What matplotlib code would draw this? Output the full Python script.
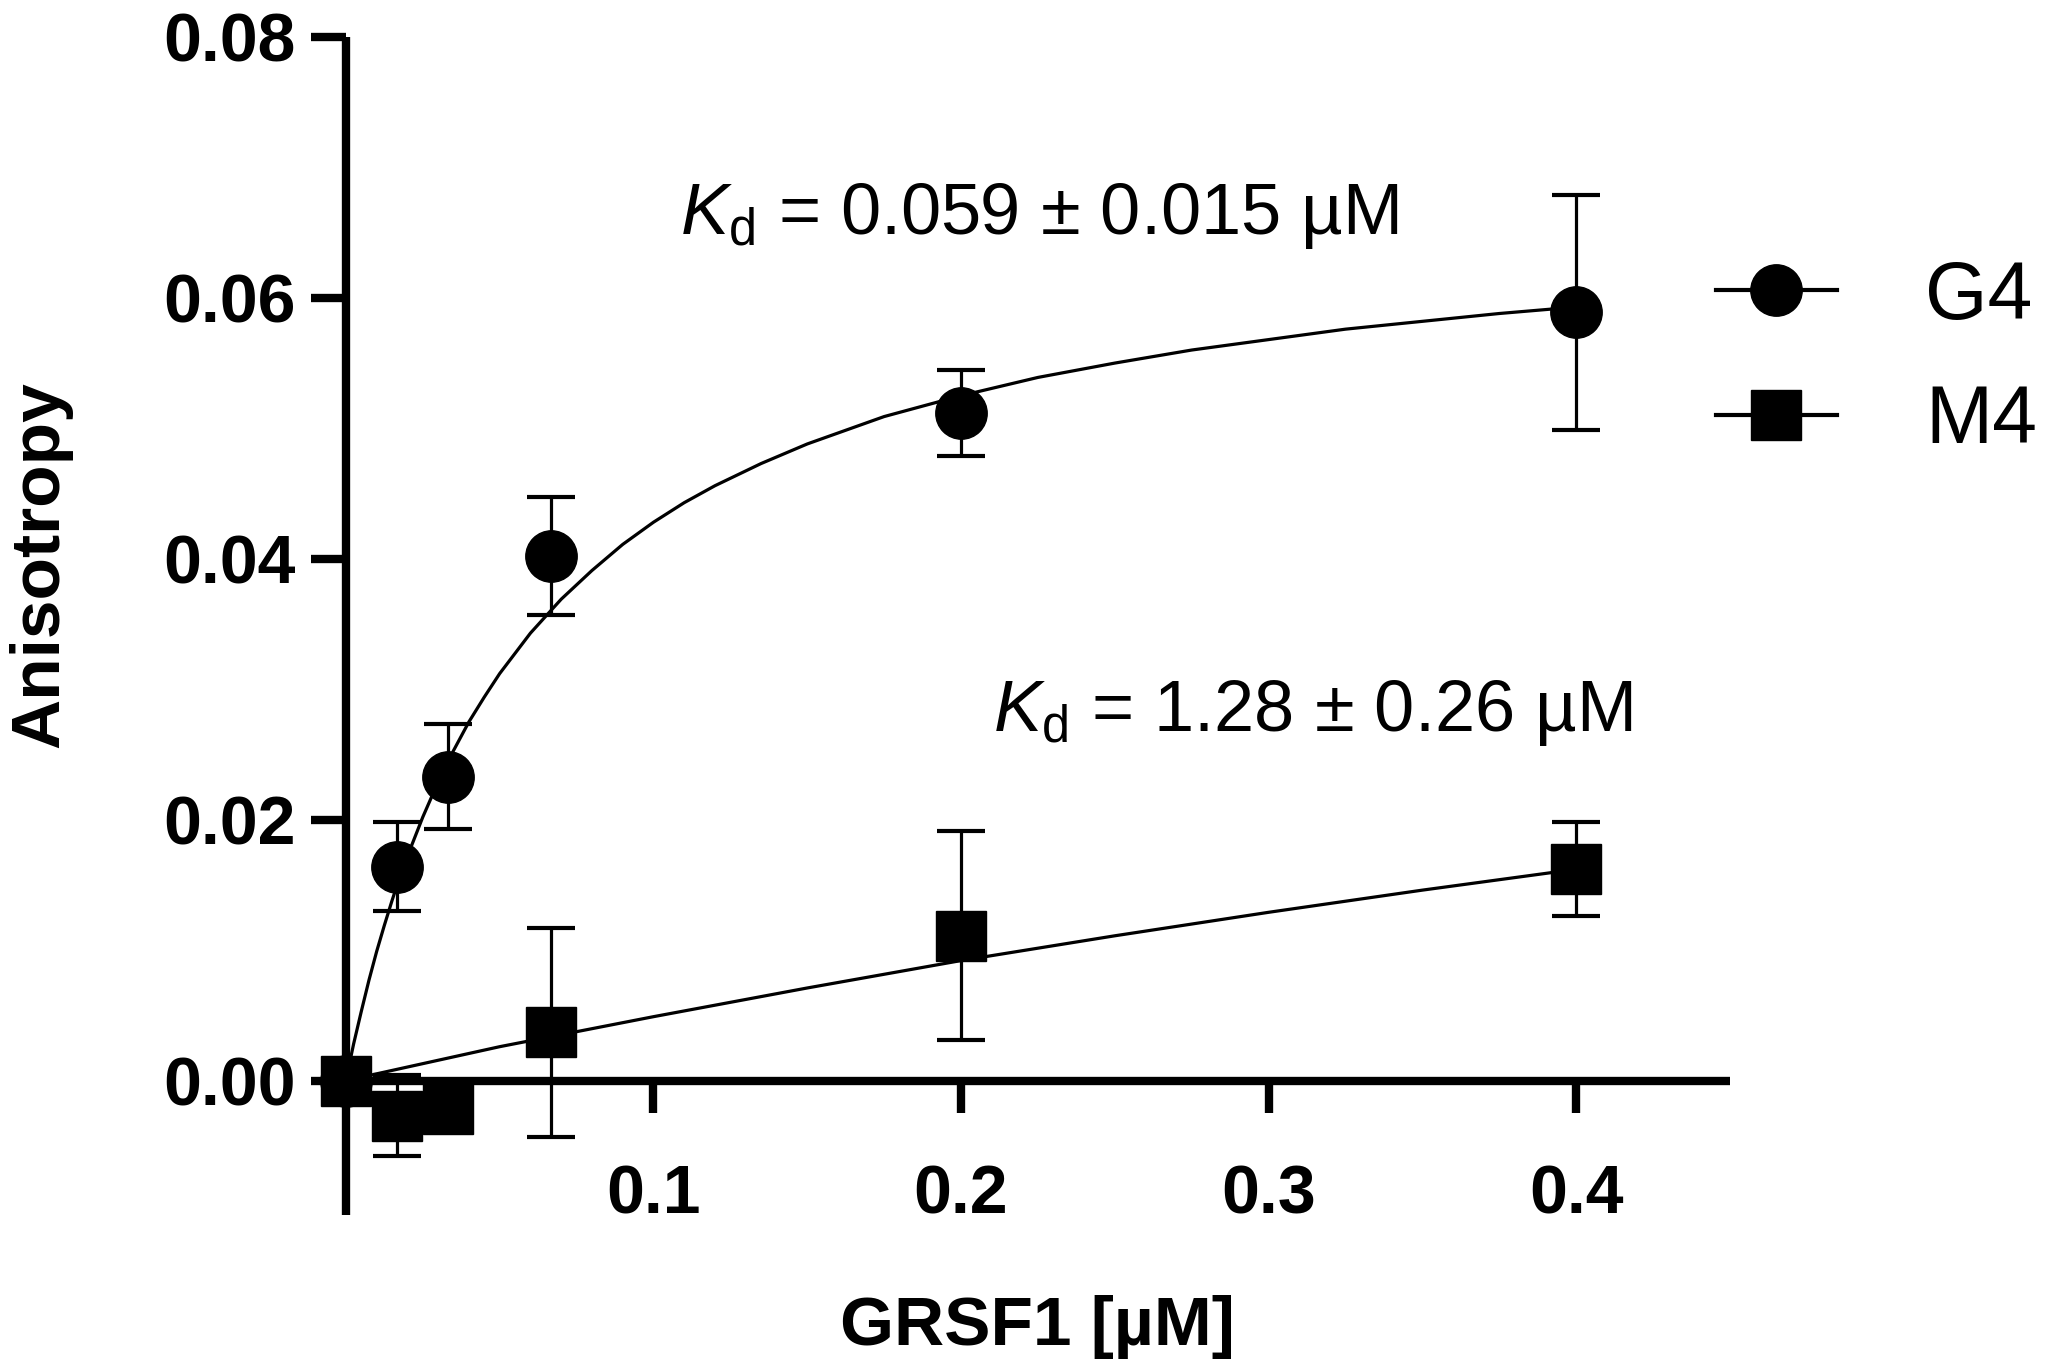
import numpy as np
import matplotlib
matplotlib.use("Agg")
import matplotlib.pyplot as plt
from matplotlib.lines import Line2D
from matplotlib.ticker import FormatStrFormatter

plt.rcParams["font.family"] = ["Liberation Sans", "DejaVu Sans"]
plt.rcParams["mathtext.fontset"] = "custom"
plt.rcParams["mathtext.rm"] = "Liberation Sans"
plt.rcParams["mathtext.it"] = "Liberation Sans:italic"

# GRSF1 concentration (uM)
conc = [0.0, 0.0167, 0.0333, 0.0667, 0.2, 0.4]

# G4 anisotropy, mean and error
g4_mean = [0.0, 0.0164, 0.0233, 0.0402, 0.0512, 0.0589]
g4_err = [0.0, 0.0034, 0.0040, 0.0045, 0.0033, 0.0090]

# M4 anisotropy, mean and error
m4_mean = [0.0, -0.0027, -0.0022, 0.0037, 0.0111, 0.0162]
m4_err = [0.0, 0.0031, 0.0003, 0.0080, 0.0080, 0.0036]

# fitted curves
g4_fit_x = [0.0, 0.0025, 0.005, 0.0075, 0.01, 0.0125, 0.015, 0.0175, 0.02,
            0.025, 0.03, 0.035, 0.04, 0.045, 0.05, 0.06, 0.07, 0.08, 0.09,
            0.1, 0.11, 0.12, 0.135, 0.15, 0.175, 0.2, 0.225, 0.25, 0.275,
            0.3, 0.325, 0.35, 0.375, 0.4]
g4_fit_y = [0.0, 0.0028, 0.0053, 0.0077, 0.0099, 0.0119, 0.0138, 0.0156,
            0.0172, 0.0202, 0.0229, 0.0253, 0.0275, 0.0294, 0.0312, 0.0343,
            0.0369, 0.0391, 0.0411, 0.0428, 0.0443, 0.0456, 0.0473, 0.0488,
            0.0509, 0.0525, 0.0539, 0.0550, 0.0560, 0.0568, 0.0576, 0.0582,
            0.0588, 0.0593]
m4_fit_x = [0.0, 0.05, 0.1, 0.15, 0.2, 0.25, 0.3, 0.35, 0.4]
m4_fit_y = [0.0, 0.0026, 0.0049, 0.0071, 0.0092, 0.0111, 0.0129, 0.0146,
            0.0162]

kd_labels = [r"$K_\mathrm{d}$ = 0.059 ± 0.015 µM",
             r"$K_\mathrm{d}$ = 1.28 ± 0.26 µM"]
series = ["G4", "M4"]

fig = plt.figure(figsize=(20.7, 13.63), dpi=100)
ax = fig.add_axes([0.1671, 0.1086, 0.6686, 0.8643])

ax.plot(g4_fit_x, g4_fit_y, color="black", lw=2.3, zorder=2)
ax.plot(m4_fit_x, m4_fit_y, color="black", lw=2.3, zorder=2)

ax.errorbar(conc, g4_mean, yerr=g4_err, fmt="o", color="black", ms=37,
            ecolor="black", elinewidth=2.3, capsize=17, capthick=3,
            clip_on=False, zorder=3)
ax.errorbar(conc, m4_mean, yerr=m4_err, fmt="s", color="black", ms=36,
            ecolor="black", elinewidth=2.3, capsize=17, capthick=3,
            clip_on=False, zorder=4)

ax.text(0.1086, 0.0663, kd_labels[0], fontsize=52, va="center", ha="left")
ax.text(0.2103, 0.0282, kd_labels[1], fontsize=52, va="center", ha="left")

ax.set_xlim(0, 0.45)
ax.set_ylim(-0.0103, 0.08)
ax.spines["top"].set_visible(False)
ax.spines["right"].set_visible(False)
ax.spines["bottom"].set_position(("data", 0))
for s in ["left", "bottom"]:
    ax.spines[s].set_linewidth(6)
    ax.spines[s].set_capstyle("butt")

ax.set_xticks([0.1, 0.2, 0.3, 0.4])
ax.set_yticks([0.0, 0.02, 0.04, 0.06, 0.08])
ax.yaxis.set_major_formatter(FormatStrFormatter("%.2f"))
ax.tick_params(axis="x", direction="out", length=23, width=6, pad=37,
               labelsize=49)
ax.tick_params(axis="y", direction="out", length=25, width=6, pad=11,
               labelsize=49)
for lab in ax.get_xticklabels() + ax.get_yticklabels():
    lab.set_fontweight("bold")

ax.set_xlabel("GRSF1 [µM]", fontsize=50, fontweight="bold", va="center")
ax.xaxis.set_label_coords(0.5, -0.095)
ax.set_ylabel("Anisotropy", fontsize=50, fontweight="bold", va="center")
ax.yaxis.set_label_coords(-0.221, 0.552)

handles = [Line2D([], [], color="black", lw=3, marker="o", ms=37),
           Line2D([], [], color="black", lw=3, marker="s", ms=36)]
fig.legend(handles, series, loc="center left", bbox_to_anchor=(0.829, 0.736),
           frameon=False, fontsize=58, handlelength=1.5, handletextpad=1.1,
           labelspacing=0.6, borderpad=0, borderaxespad=0)

fig.savefig("out.png", dpi=100, facecolor="white")
